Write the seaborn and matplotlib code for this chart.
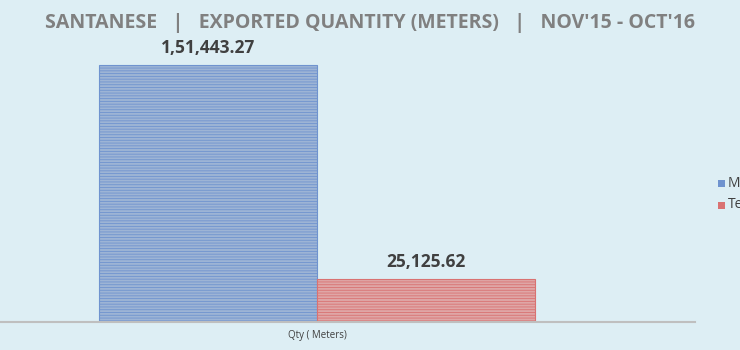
import numpy as np
import pandas as pd
import matplotlib.pyplot as plt
import seaborn as sns

# data
category = ["Qty ( Meters)"]
series = ["Made-ups", "Textiles"]
values = [151443.27, 25125.62]
colors = ["#93B3DF", "#E99C9C"]
edges = ["#6F93CF", "#D97272"]


def indian_fmt(v):
    whole, dec = f"{v:.2f}".split(".")
    if len(whole) > 3:
        head, tail = whole[:-3], whole[-3:]
        parts = []
        while len(head) > 2:
            parts.insert(0, head[-2:])
            head = head[:-2]
        if head:
            parts.insert(0, head)
        whole = ",".join(parts + [tail])
    return whole + "." + dec


df = pd.DataFrame({"Category": category * len(series), "Series": series, "Value": values})

sns.set_theme(style="white")
plt.rcParams["font.family"] = ["Open Sans", "DejaVu Sans"]
plt.rcParams["hatch.linewidth"] = 0.6

bg = "#DDEEF4"
fig = plt.figure(figsize=(7.4, 3.5), dpi=100, facecolor=bg)
ax = fig.add_axes([0, 28 / 350, 695 / 740, 277 / 350])
ax.set_facecolor(bg)

sns.barplot(data=df, x="Category", y="Value", hue="Series", palette=colors,
            width=0.8, ax=ax, legend=False)

for bar, ec in zip(ax.patches, edges):
    bar.set_edgecolor(ec)
    bar.set_linewidth(0.8)
    bar.set_hatch("------")

for bar, v in zip(ax.patches, values):
    ax.text(bar.get_x() + bar.get_width() / 2, bar.get_height() + 5000, indian_fmt(v),
            ha="center", va="bottom", fontsize=12.5, fontweight="bold", color="#404040")

ax.set_xlim(-0.582, 0.693)
ax.set_ylim(0, 163230)
ax.set_yticks([])
ax.set_xlabel("")
ax.set_ylabel("")
ax.tick_params(axis="x", length=0, pad=6, labelsize=7, labelcolor="#404040")
for s in ["top", "left", "right"]:
    ax.spines[s].set_visible(False)
ax.spines["bottom"].set_color("#BFBFBF")
ax.spines["bottom"].set_linewidth(1.5)

fig.text(0.5, 1 - 23 / 350, "SANTANESE   |   EXPORTED QUANTITY (METERS)   |   NOV'15 - OCT'16",
         ha="center", va="center", fontsize=14, fontweight="bold", color="#808080")

# legend, cut off at the right edge as in the source
for i, (lab, c) in enumerate(zip(series, colors)):
    y = 1 - (183 + 22 * i) / 350
    fig.patches.append(plt.Rectangle((718 / 740, y - 3.5 / 350), 7 / 740, 7 / 350,
                                     transform=fig.transFigure, facecolor=edges[i],
                                     edgecolor="none"))
    fig.text(728 / 740, y, lab, ha="left", va="center", fontsize=10, color="#404040")

fig.savefig("out.png", dpi=100, facecolor=bg)
